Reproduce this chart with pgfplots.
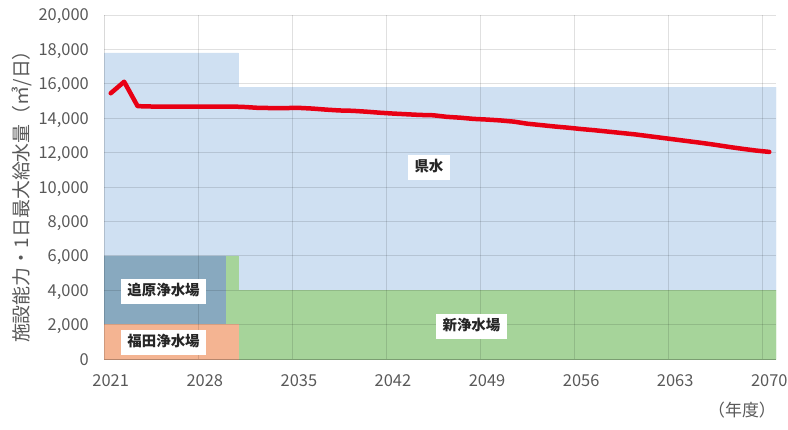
\documentclass[border=0pt]{standalone}
\usepackage{pgfplots}
\usepackage{pgfplotstable}
\pgfplotsset{compat=1.18}
\usepackage{fontspec}
\setmainfont{Noto Sans CJK JP}
\definecolor{kensui}{RGB}{207,224,242}
\definecolor{oihara}{RGB}{136,169,191}
\definecolor{shin}{RGB}{166,212,154}
\definecolor{fukuda}{RGB}{244,180,146}
\definecolor{demand}{RGB}{232,0,20}
\definecolor{txt}{RGB}{89,89,89}
\tikzset{lbl/.style={fill=white, font=\fontsize{14.5}{16}\selectfont\bfseries, text=black!85,
    inner xsep=6.5bp, inner ysep=5.5bp, text height=11bp, text depth=3bp}}

\pgfplotstableread{
year fukuda oihara shin kensui demand
2021 2000 4000 0 11800 15450
2022 2000 4000 0 11800 16120
2023 2000 4000 0 11800 14700
2024 2000 4000 0 11800 14680
2025 2000 4000 0 11800 14680
2026 2000 4000 0 11800 14680
2027 2000 4000 0 11800 14680
2028 2000 4000 0 11800 14680
2029 2000 4000 0 11800 14680
2030 2000 0 4000 11800 14680
2031 0 0 4000 11800 14650
2032 0 0 4000 11800 14600
2033 0 0 4000 11800 14590
2034 0 0 4000 11800 14590
2035 0 0 4000 11800 14600
2036 0 0 4000 11800 14560
2037 0 0 4000 11800 14500
2038 0 0 4000 11800 14450
2039 0 0 4000 11800 14430
2040 0 0 4000 11800 14380
2041 0 0 4000 11800 14320
2042 0 0 4000 11800 14270
2043 0 0 4000 11800 14230
2044 0 0 4000 11800 14190
2045 0 0 4000 11800 14170
2046 0 0 4000 11800 14080
2047 0 0 4000 11800 14030
2048 0 0 4000 11800 13960
2049 0 0 4000 11800 13920
2050 0 0 4000 11800 13870
2051 0 0 4000 11800 13800
2052 0 0 4000 11800 13680
2053 0 0 4000 11800 13600
2054 0 0 4000 11800 13520
2055 0 0 4000 11800 13450
2056 0 0 4000 11800 13370
2057 0 0 4000 11800 13300
2058 0 0 4000 11800 13220
2059 0 0 4000 11800 13140
2060 0 0 4000 11800 13060
2061 0 0 4000 11800 12960
2062 0 0 4000 11800 12860
2063 0 0 4000 11800 12760
2064 0 0 4000 11800 12660
2065 0 0 4000 11800 12560
2066 0 0 4000 11800 12450
2067 0 0 4000 11800 12330
2068 0 0 4000 11800 12220
2069 0 0 4000 11800 12120
2070 0 0 4000 11800 12040
}\datatable

\begin{document}
\begin{tikzpicture}[x=1bp,y=1bp]
\useasboundingbox (0,0) rectangle (788,429);
\begin{axis}[
  at={(104bp,70bp)}, anchor=south west,
  scale only axis, width=672bp, height=344bp,
  xmin=2020.5, xmax=2070.5, ymin=0, ymax=20000,
  ybar stacked, bar width=1, bar shift=0pt,
  axis on top,
  axis x line*=bottom, axis y line*=left,
  axis line style={-, draw=black, draw opacity=0.15, line width=0.8bp},
  xtick={2021,2028,2035,2042,2049,2056,2063,2070},
  xticklabels={2021,2028,2035,2042,2049,2056,2063,2070},
  extra x ticks={2027.5,2034.5,2041.5,2048.5,2055.5,2062.5,2069.5},
  extra x tick labels={},
  extra x tick style={grid=major},
  ytick={0,2000,...,20000},
  ymajorgrids,
  grid style={draw=black, draw opacity=0.12, line width=0.8bp},
  major tick length=0pt,
  scaled y ticks=false,
  /pgf/number format/assume math mode=true,
  /pgf/number format/fixed,
  /pgf/number format/1000 sep={,},
  tick label style={font=\fontsize{16.5}{18}\selectfont, text=txt, inner sep=0pt},
  xticklabel style={anchor=base, yshift=-27bp},
  yticklabel style={anchor=base east, yshift=-6bp, xshift=-15bp},
]
\addplot[fill=fukuda, draw=fukuda, line width=0.3bp] table[x=year, y=fukuda] {\datatable};
\addplot[fill=oihara, draw=oihara, line width=0.3bp] table[x=year, y=oihara] {\datatable};
\addplot[fill=shin, draw=shin, line width=0.3bp] table[x=year, y=shin] {\datatable};
\addplot[fill=kensui, draw=kensui, line width=0.3bp] table[x=year, y=kensui] {\datatable};
\end{axis}
\begin{axis}[
  at={(104bp,70bp)}, anchor=south west,
  scale only axis, width=672bp, height=344bp,
  xmin=2020.5, xmax=2070.5, ymin=0, ymax=20000,
  hide axis, clip=false,
]
\addplot[demand, line width=4.5bp, line join=round, line cap=round, mark=none]
  table[x=year, y=demand] {\datatable};
\node[lbl] at (axis cs:2044.68,11105) {県水};
\node[lbl] at (axis cs:2047.84,1890) {新浄水場};
\node[lbl] at (axis cs:2024.93,3924) {追原浄水場};
\node[lbl] at (axis cs:2024.93,988) {福田浄水場};
\end{axis}
\node[rotate=90, text=txt, font=\fontsize{19}{21}\selectfont, inner sep=0pt] at (22,237) {施設能力・1日最大給水量（㎥/日）};
\node[text=txt, font=\fontsize{17}{19}\selectfont, inner sep=0pt] at (742,19) {（年度）};
\end{tikzpicture}
\end{document}
